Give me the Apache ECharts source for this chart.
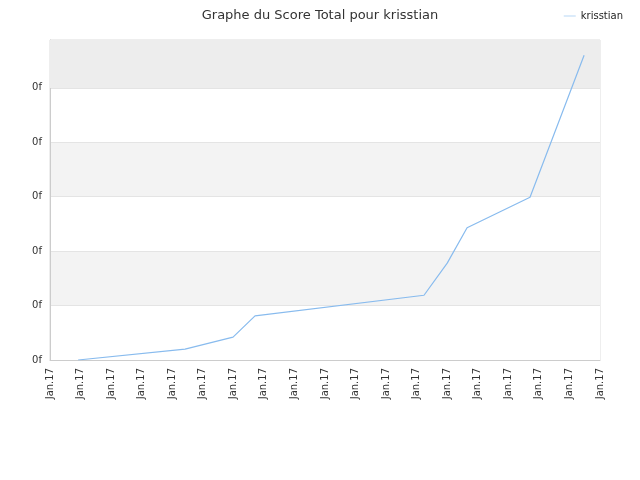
<!DOCTYPE html>
<html><head><meta charset="utf-8">
<script src="https://cdn.jsdelivr.net/npm/echarts@6/dist/echarts.min.js"></script>
<style>html,body{margin:0;padding:0}#c{width:640px;height:480px}</style>
</head><body><div id="c"></div>
<script>
const xVals = [0.92, 4.42, 5.99, 6.71, 12.24, 13.0, 13.65, 15.71, 17.48];
const yVals = [0, 0.2, 0.42, 0.81, 1.19, 1.78, 2.43, 2.99, 5.6];
const xLabel = 'Jan.17';
const yLabel = '0f';
const chart = echarts.init(document.getElementById('c'));
chart.setOption({
  animation: false,
  title: {text: 'Graphe du Score Total pour krisstian', left: 'center', top: 4,
    textStyle: {fontFamily: 'DejaVu Sans', fontSize: 13, fontWeight: 'normal', color: '#333'}},
  legend: {right: 12, top: 6, icon: 'path://M0,5L20,5L20,6L0,6Z', itemWidth: 12, itemHeight: 4,
    textStyle: {fontFamily: 'DejaVu Sans', fontSize: 10, color: '#222'}},
  grid: {left: 50, right: 40, top: 40, bottom: 120, show: true, borderColor: '#ddd', borderWidth: 1},
  xAxis: {type: 'value', min: 0, max: 18, interval: 1,
    axisLine: {lineStyle: {color: '#ccc'}}, axisTick: {show: false}, splitLine: {show: false},
    axisLabel: {rotate: 90, formatter: () => xLabel, color: '#333', fontFamily: 'DejaVu Sans', fontSize: 10}},
  yAxis: {type: 'value', min: 0, max: 5.88, interval: 1,
    axisLine: {show: true, lineStyle: {color: '#ccc'}}, axisTick: {show: false},
    splitLine: {lineStyle: {color: '#e4e4e4'}},
    splitArea: {show: true, areaStyle: {color: ['#ffffff', '#f3f3f3']}},
    axisLabel: {showMaxLabel: false, formatter: () => yLabel, color: '#333', fontFamily: 'DejaVu Sans', fontSize: 10}},
  series: [{name: 'krisstian', type: 'line', showSymbol: false, symbol: 'none',
    lineStyle: {color: '#88bbee', width: 1.2}, itemStyle: {color: '#88bbee'},
    markArea: {silent: true, itemStyle: {color: '#ededed'}, data: [[{yAxis: 5}, {yAxis: 5.88}]]},
    data: xVals.map((x, i) => [x, yVals[i]])}]
});
</script></body></html>
